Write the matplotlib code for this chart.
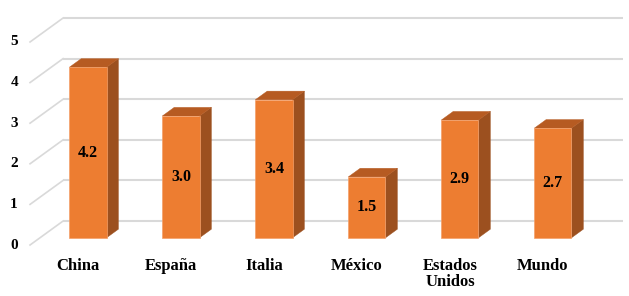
import matplotlib
matplotlib.use("Agg")
import matplotlib.pyplot as plt
from matplotlib.patches import Polygon

categories = ["China", "España", "Italia", "México", "Estados\nUnidos", "Mundo"]
values = [4.2, 3.0, 3.4, 1.5, 2.9, 2.7]
value_labels = ["4.2", "3.0", "3.4", "1.5", "2.9", "2.7"]
yticks = [0, 1, 2, 3, 4, 5]

# pseudo-3D geometry (data units)
DX, DY = 0.355, 0.59          # full depth vector of the floor
D1, D2 = 0.30, 0.66           # bar front / back depth fractions
BW = 0.40                     # bar width
FLOOR_X0, FLOOR_X1 = -0.516, 5.505

FRONT = "#ED7D31"
SIDE = "#9C501F"
TOP = "#B65B22"
GRID = "#D9D9D9"
FONT = "Liberation Serif"

fig = plt.figure(figsize=(6.29, 2.96), dpi=100)
ax = fig.add_axes([0, 0, 1, 1])
ax.set_xlim(-0.839, 5.925)
ax.set_ylim(-1.256, 6.034)
ax.axis("off")

# back wall gridlines + side wall diagonals
for v in yticks:
    ax.plot([FLOOR_X0 + DX, FLOOR_X1 + DX], [v + DY, v + DY], color=GRID, lw=1.5, zorder=0,
            solid_capstyle="butt")
    ax.plot([FLOOR_X0, FLOOR_X0 + DX], [v, v + DY], color=GRID, lw=1.2, zorder=0)
    ax.text(FLOOR_X0 - 0.13, v, str(v), ha="right", va="center", fontsize=11,
            fontweight="bold", family=FONT, color="#000000")

xs = list(range(len(categories)))
fx = [x + D1 * DX for x in xs]
bottom = D1 * DY
ax.bar(fx, values, width=BW, bottom=bottom, color=FRONT, edgecolor="#F4A06A",
       linewidth=0.5, zorder=3)

ddx = (D2 - D1) * DX
ddy = (D2 - D1) * DY
for x, v, lab in zip(fx, values, value_labels):
    r = x + BW / 2
    l = x - BW / 2
    top = bottom + v
    side = Polygon([(r, bottom), (r + ddx, bottom + ddy), (r + ddx, top + ddy), (r, top)],
                   closed=True, facecolor=SIDE, edgecolor=SIDE, lw=0.3, zorder=2)
    ax.add_patch(side)
    tp = Polygon([(l, top), (r, top), (r + ddx, top + ddy), (l + ddx, top + ddy)],
                 closed=True, facecolor=TOP, edgecolor=TOP, lw=0.3, zorder=2)
    ax.add_patch(tp)
    ax.text(x, bottom + v / 2, lab, ha="center", va="center", fontsize=11.5,
            fontweight="bold", family=FONT, color="#000000", zorder=5)

for x, c in zip(xs, categories):
    ax.text(x, -0.32, c, ha="center", va="top", fontsize=12, fontweight="bold",
            family=FONT, color="#000000", linespacing=0.98)

fig.savefig("out.png", dpi=100)
